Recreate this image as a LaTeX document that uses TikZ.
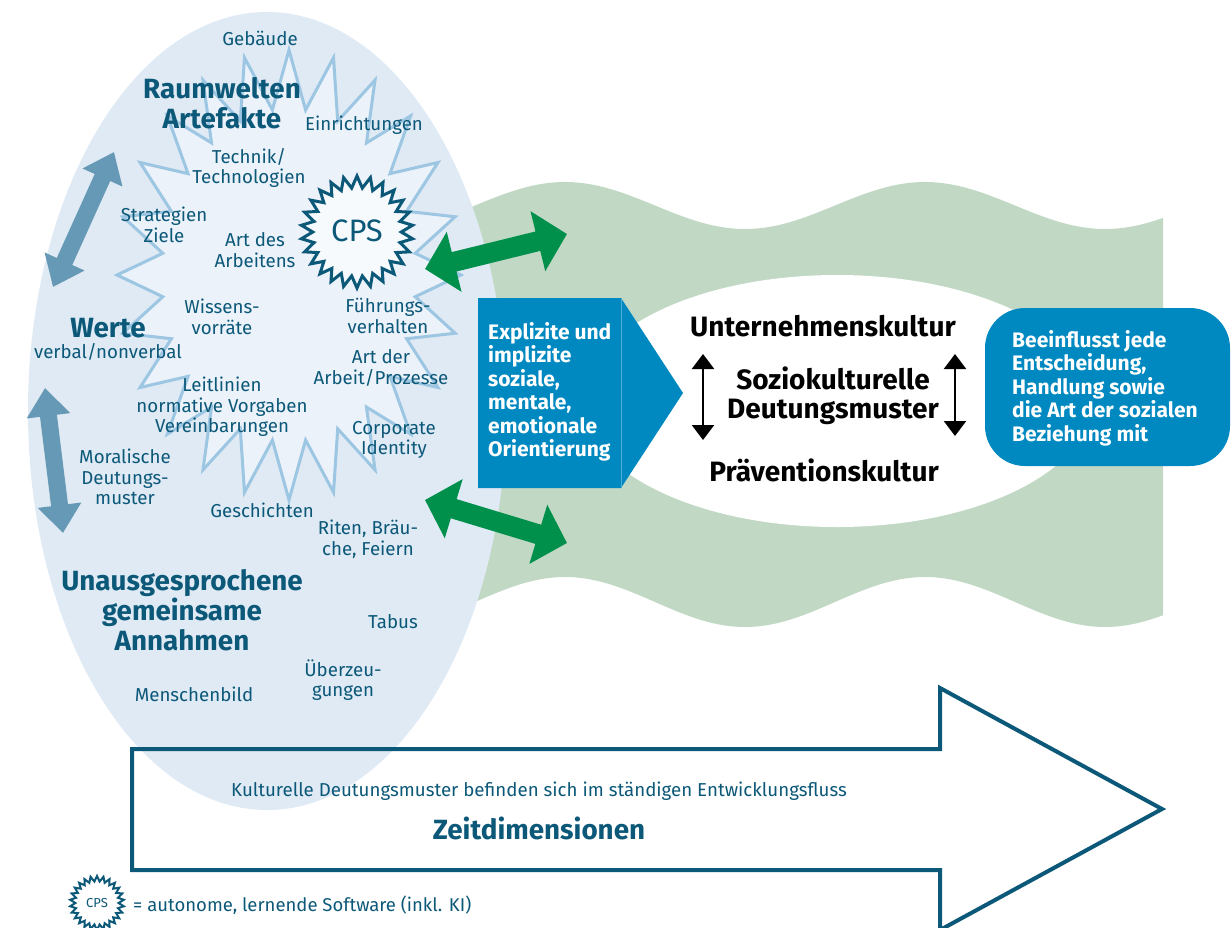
\documentclass[tikz,border=0pt]{standalone}
\usepackage{fontspec}
\setmainfont{Fira Sans}
\usetikzlibrary{arrows.meta}
\definecolor{ellfill}{HTML}{DFEAF5}
\definecolor{starfill}{HTML}{EBF2FA}
\definecolor{starline}{HTML}{9CC6E2}
\definecolor{dkteal}{HTML}{0C5878}
\definecolor{arrblue}{HTML}{6699B5}
\definecolor{grn}{HTML}{00904C}
\definecolor{wavegreen}{HTML}{C1D9C4}
\definecolor{boxblue}{HTML}{0089C0}
\tikzset{
  lbl/.style={text=dkteal, font=\fontsize{18.7}{20.5}\selectfont, align=center, inner sep=0pt},
  hdl/.style={text=dkteal, font=\fontsize{27.8}{30}\selectfont\bfseries, align=center, inner sep=0pt},
  blk/.style={text=black, font=\fontsize{28}{29}\selectfont\bfseries, align=center, inner sep=0pt},
  wtxt/.style={text=white, font=\fontsize{21}{23.5}\selectfont\bfseries, align=left, inner sep=0pt},
  grnarrow/.style={grn, line width=20pt, {Triangle[length=30pt,width=60pt]}-{Triangle[length=30pt,width=60pt]}},
  bluearrow/.style={arrblue, line width=17pt, {Triangle[length=28pt,width=42pt]}-{Triangle[length=28pt,width=42pt]}},
  blkarrow/.style={black, line width=2.5pt, {Triangle[length=15pt,width=22pt]}-{Triangle[length=15pt,width=22pt]}}
}
\begin{document}
\begin{tikzpicture}[x=1pt,y=-1pt]
\useasboundingbox (0,0) rectangle (1232,927);
% green wavy band
\fill[wavegreen] plot[domain=440:1163,samples=160] (\x,{205.5-23.5*cos(\x-565)})
  -- plot[domain=1163:440,samples=160] (\x,{602-25*cos(\x-565)}) -- cycle;
% white inner ellipse
\fill[white] (837,401) ellipse [x radius=255, y radius=126];
% big ellipse
\fill[ellfill] (267,411) ellipse [x radius=239, y radius=399];
% spiky star
\filldraw[fill=starfill, draw=starline, line width=3pt, line join=miter]
  plot[samples at={0,...,47}] ({289+172*(1-0.26*mod(\x,2))*sin(\x*7.5)},{275-225*(1-0.26*mod(\x,2))*cos(\x*7.5)}) -- cycle;
% CPS star
\filldraw[fill=starfill!40!white, draw=dkteal, line width=3pt, line join=miter]
  plot[samples at={0,...,51}] ({357+56*(1-0.21*mod(\x,2))*sin(\x*6.92308)},{232-56*(1-0.21*mod(\x,2))*cos(\x*6.92308)}) -- cycle;
\node[text=dkteal, font=\fontsize{31}{32}\selectfont, inner sep=0pt] (cps) at (357,231) {CPS};
% blue pentagon box
\fill[boxblue] (478,298) -- (621,298) -- (683,393) -- (621,488) -- (478,488) -- cycle;
\draw[boxblue!70!white, line width=0.6pt] (621,298) -- (621,488);
\node[wtxt, anchor=west] (expl) at (488,392) {Explizite und\\implizite\\soziale,\\mentale,\\emotionale\\Orientierung};
% rounded box
\fill[boxblue, rounded corners=40pt] (985,308) rectangle (1230,466);
\node[wtxt, anchor=west] (beein) at (1012,388) {Beeinflusst jede\\Entscheidung,\\Handlung sowie\\die Art der sozialen\\Beziehung mit};
% black texts
\node[blk] (uk) at (823,326) {Unternehmenskultur};
\node[blk] (sd) at (833,396) {Soziokulturelle\\Deutungsmuster};
\node[blk] (pk) at (824,470) {Präventionskultur};
\coordinate (ba1) at (703,354); \coordinate (ba2) at (703,440);
\coordinate (bb1) at (955,354); \coordinate (bb2) at (955,436);
\draw[blkarrow] (ba1) -- (ba2);
\draw[blkarrow] (bb1) -- (bb2);
% labels in ellipse
\node[lbl] (geb) at (260,38) {Gebäude};
\node[hdl] (raum) at (222,103) {Raumwelten\\Artefakte};
\node[lbl] (einr) at (364,125) {Einrichtungen};
\node[lbl] (tech) at (249,168) {Technik/\\Technologien};
\node[lbl] (strat) at (164,225) {Strategien\\Ziele};
\node[lbl] (artd) at (255,250) {Art des\\Arbeitens};
\node[lbl] (wiss) at (222,317) {Wissens-\\vorräte};
\node[lbl] (fuehr) at (388,316) {Führungs-\\verhalten};
\node[hdl] (werte) at (108,328) {Werte};
\node[lbl] (verb) at (108,352) {verbal/nonverbal};
\node[lbl] (artp) at (381,368) {Art der\\Arbeit/Prozesse};
\node[lbl] (leit) at (222,407) {Leitlinien\\normative Vorgaben\\Vereinbarungen};
\node[lbl] (corp) at (394,440) {Corporate\\Identity};
\node[lbl] (moral) at (125,477) {Moralische\\Deutungs-\\muster};
\node[lbl] (gesch) at (262,510) {Geschichten};
\node[lbl] (riten) at (368,539) {Riten, Bräu-\\che, Feiern};
\node[hdl] (unaus) at (182,610) {Unausgesprochene\\gemeinsame\\Annahmen};
\node[lbl] (tabus) at (393,622) {Tabus};
\node[lbl] (ueber) at (343,680) {Überzeu-\\gungen};
\node[lbl] (mensch) at (194,694) {Menschenbild};
% blue-gray double arrows
\coordinate (u1) at (53,287); \coordinate (u2) at (114,152);
\coordinate (l1) at (45,388); \coordinate (l2) at (63,533);
\draw[bluearrow] (u1) -- (u2);
\draw[bluearrow] (l1) -- (l2);
% green double arrows
\coordinate (g1a) at (425,269); \coordinate (g1b) at (567,234);
\coordinate (g2a) at (425,500); \coordinate (g2b) at (567,543);
\draw[grnarrow] (g1a) -- (g1b);
\draw[grnarrow] (g2a) -- (g2b);
% Zeitdimensionen arrow
\draw[dkteal, line width=4pt, line join=miter] (132,749) -- (940,749) -- (940,688) -- (1162,809) -- (940,930) -- (940,870) -- (132,870) -- cycle;
\node[lbl, font=\fontsize{18.7}{19}\selectfont] (kult) at (539,791) {Kulturelle Deutungsmuster befinden sich im ständigen Entwicklungsfluss};
\node[hdl] (zeit) at (539,828) {Zeitdimensionen};
% legend
\filldraw[fill=white, draw=dkteal, line width=2pt, line join=miter]
  plot[samples at={0,...,51}] ({97+27*(1-0.2*mod(\x,2))*sin(\x*6.92308)},{903-27*(1-0.2*mod(\x,2))*cos(\x*6.92308)}) -- cycle;
\node[text=dkteal, font=\fontsize{13}{14}\selectfont, inner sep=0pt] (lcps) at (97,903) {CPS};
\node[lbl, anchor=west, font=\fontsize{18.5}{19}\selectfont] (legtxt) at (133,905) {= autonome, lernende Software (inkl. KI)};
\end{tikzpicture}
\end{document}
